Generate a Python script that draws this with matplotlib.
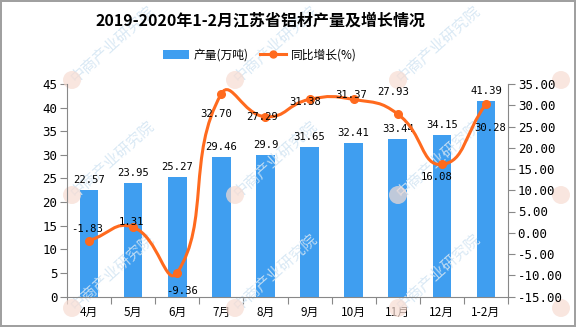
import matplotlib
matplotlib.use("Agg")

import matplotlib.pyplot as plt
from matplotlib.path import Path
from matplotlib.patches import PathPatch, Patch, Ellipse
from matplotlib.lines import Line2D

plt.rcParams["font.family"] = ["Noto Sans CJK SC", "DejaVu Sans"]

months = ["4月", "5月", "6月", "7月", "8月", "9月", "10月", "11月", "12月", "1-2月"]
output = [22.57, 23.95, 25.27, 29.46, 29.9, 31.65, 32.41, 33.44, 34.15, 41.39]
output_labels = ["22.57", "23.95", "25.27", "29.46", "29.9", "31.65", "32.41", "33.44", "34.15", "41.39"]
growth = [-1.83, 1.31, -9.36, 32.70, 27.29, 31.38, 31.37, 27.93, 16.08, 30.28]
left_ticks = [0, 5, 10, 15, 20, 25, 30, 35, 40, 45]
right_ticks = [-15, -10, -5, 0, 5, 10, 15, 20, 25, 30, 35]

# label offsets (pixels) for the growth labels, as placed in the original
growth_offsets = [(-2, 12), (-2, 5), (5, -18), (-5, -20), (-3, 0),
                  (-4, -3), (-2, 4), (-5, 22), (-5, -13), (4, -24)]

BLUE = "#3f9ef0"
ORANGE = "#ff6a1e"
MONO = ["DejaVu Sans Mono"]
W, H = 576, 327

fig = plt.figure(figsize=(5.76, 3.27), dpi=100)
fig.patch.set_edgecolor("#a0a0a0")
fig.patch.set_linewidth(1.5)

ax = fig.add_axes([67 / W, 1 - 296.5 / H, 441 / W, 212.5 / H])
ax.patch.set_alpha(0)

# watermarks (over the bars, under the labels)
for wx in [72, 235, 398, 561]:
    for wy in [80, 195, 308]:
        if wx < 500:
            ax.text((wx + 40) / W, 1 - (wy - 36) / H, "中商产业研究院", fontsize=11,
                    color="#d3e5f3", alpha=0.85, rotation=42, ha="center",
                    va="center", transform=fig.transFigure, zorder=2.5)
        ax.add_artist(Ellipse((wx / W, 1 - wy / H), 18 / W, 18 / H,
                              transform=fig.transFigure, facecolor="#f7dcd2",
                              edgecolor="none", alpha=0.7, zorder=2.5, clip_on=False))

x = list(range(len(months)))
ax.bar(x, output, width=0.42, color=BLUE, zorder=2)
for xi, v, s in zip(x, output, output_labels):
    ax.annotate(s, (xi, v), xytext=(0, 5), textcoords="offset pixels",
                ha="center", va="bottom", fontsize=7.6, family=MONO, zorder=5)

ax.set_xlim(-0.5, len(months) - 0.5)
ax.set_ylim(0, 45)
ax.set_yticks(left_ticks)
ax.set_yticklabels([str(t) for t in left_ticks], family=MONO, fontsize=9)
ax.set_xticks([i + 0.5 for i in range(-1, len(months))], minor=False)
ax.set_xticklabels([])
ax.set_xticks(x, minor=True)
ax.set_xticklabels(months, minor=True, fontsize=8.5)
ax.tick_params(axis="x", which="major", length=5, color="#888888", direction="out")
ax.tick_params(axis="x", which="minor", length=0, pad=7)
ax.tick_params(axis="y", length=5, color="#888888", pad=2)
for side in ["top", "right"]:
    ax.spines[side].set_visible(False)
for side in ["left", "bottom"]:
    ax.spines[side].set_color("#888888")

ax2 = ax.twinx()
ax2.set_ylim(-15, 35)
ax2.set_yticks(right_ticks)
ax2.set_yticklabels(["%.2f" % t for t in right_ticks], family=MONO, fontsize=9)
ax2.tick_params(axis="y", length=5, color="#888888", pad=2)
for side in ["top", "left", "bottom"]:
    ax2.spines[side].set_visible(False)
ax2.spines["right"].set_color("#888888")

# smooth line through the points (bezier control points like echarts smooth)
sx, sy = 44.1, 212.5 / 50
pts = list(zip(x, growth))
verts = [pts[0]]
codes = [Path.MOVETO]
cps = []
for i, (px, py) in enumerate(pts):
    prev = pts[i - 1] if i > 0 else (px, py)
    nxt = pts[i + 1] if i < len(pts) - 1 else (px, py)
    vx, vy = (nxt[0] - prev[0]) * 0.5, (nxt[1] - prev[1]) * 0.5
    d0 = ((px - prev[0]) ** 2 * sx ** 2 + (py - prev[1]) ** 2 * sy ** 2) ** 0.5
    d1 = ((nxt[0] - px) ** 2 * sx ** 2 + (nxt[1] - py) ** 2 * sy ** 2) ** 0.5
    tot = d0 + d1
    if tot == 0:
        tot = 1
    d0, d1 = d0 / tot, d1 / tot
    cps.append(((px - vx * d0, py - vy * d0), (px + vx * d1, py + vy * d1)))
for i in range(1, len(pts)):
    verts += [cps[i - 1][1], cps[i][0], pts[i]]
    codes += [Path.CURVE4] * 3
ax2.add_patch(PathPatch(Path(verts, codes), facecolor="none", edgecolor=ORANGE,
                        linewidth=2.2, zorder=3))
ax2.plot(x, growth, "o", color=ORANGE, markersize=5.5, zorder=4)
for xi, v, (ox, oy) in zip(x, growth, growth_offsets):
    ax2.annotate("%.2f" % v, (xi, v), xytext=(ox, oy), textcoords="offset pixels",
                 ha="center", va="center", fontsize=7.6, family=MONO, zorder=5)

fig.text(261 / W, 1 - 20 / H, "2019-2020年1-2月江苏省铝材产量及增长情况",
         ha="center", va="center", fontsize=11.5, fontweight="bold")

handles = [Patch(facecolor=BLUE, edgecolor="none"),
           Line2D([], [], color=ORANGE, linewidth=2.2, marker="o", markersize=5)]
fig.legend(handles, ["产量(万吨)", "同比增长(%)"], loc="center",
           bbox_to_anchor=(260 / W, 1 - 55 / H), ncol=2, frameon=False,
           fontsize=8.5, handlelength=2.2, handleheight=0.9, columnspacing=1.0,
           handletextpad=0.4)

fig.savefig("out.png", dpi=100)
